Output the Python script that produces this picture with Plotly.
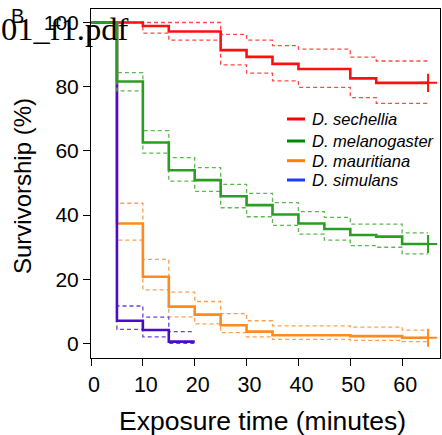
import plotly.graph_objects as go

# ---- data ----
times = [0, 5, 10, 15, 20, 25, 30, 35, 40, 45, 50, 55, 60]
end_time = 65
species = ["D. sechellia", "D. melanogaster", "D. mauritiana", "D. simulans"]

sech = [100, 100, 98.9, 97.2, 97.2, 91.4, 89.3, 87.1, 85.5, 85.5, 82.6, 81.2, 81.2]
sech_up = [100, 100, 100, 100, 100, 96.3, 94.5, 92.8, 91.7, 91.7, 89.2, 88.0, 88.0]
sech_lo = [100, 100, 96.7, 94.5, 94.5, 86.8, 84.2, 81.8, 79.8, 79.8, 76.6, 74.8, 74.8]

mel = [100, 81.6, 62.6, 54.0, 50.9, 45.9, 43.1, 40.2, 37.4, 35.7, 33.8, 33.3, 31.0]
mel_up = [100, 84.4, 66.3, 57.9, 54.8, 49.6, 46.8, 43.9, 41.1, 39.3, 37.2, 37.2, 34.5]
mel_lo = [100, 78.7, 59.3, 50.6, 47.4, 42.3, 39.5, 36.8, 34.1, 32.2, 30.5, 30.0, 27.9]

mau = [100, 37.4, 20.8, 11.5, 9.0, 5.7, 3.7, 2.6, 2.6, 2.6, 2.3, 2.3, 1.8]
mau_up = [100, 43.7, 26.2, 16.0, 13.1, 9.3, 7.1, 5.5, 5.5, 5.5, 5.1, 5.1, 4.2]
mau_lo = [100, 32.2, 16.7, 8.3, 6.1, 3.4, 2.1, 1.3, 1.3, 1.3, 1.0, 1.0, 0.6]

sim_times = [0, 5, 10, 15]
sim_end = 20
sim = [100, 7.1, 4.2, 0.6]
sim_up = [100, 11.7, 8.2, 3.7]
sim_lo = [100, 4.4, 2.1, 0.1]

x_ticks = [0, 10, 20, 30, 40, 50, 60]
y_ticks = [0, 20, 40, 60, 80, 100]

# ---- styling ----
W, H = 442, 435
L, R, T, B = 91, 2, 9, 77
PW, PH = W - L - R, H - T - B
FONT = "Liberation Sans, Arial, sans-serif"

def px(xp):
    return (xp - L) / PW

def py(yp):
    return (H - B - yp) / PH

fig = go.Figure()

def add_series(t, end, s, up, lo, col, dcol, censor):
    xs = list(t) + [end]
    for ci in (up, lo):
        fig.add_trace(go.Scatter(x=xs, y=list(ci) + [ci[-1]], mode="lines",
                                 line=dict(color=dcol, width=1.3, dash="4px,3px", shape="hv"),
                                 showlegend=False, hoverinfo="skip"))
    fig.add_trace(go.Scatter(x=xs, y=list(s) + [s[-1]], mode="lines",
                             line=dict(color=col, width=2.6, shape="hv"),
                             showlegend=False))
    if censor:
        fig.add_trace(go.Scatter(x=[end], y=[s[-1]], mode="markers",
                                 marker=dict(symbol="cross-thin", size=13,
                                             line=dict(color=col, width=2)),
                                 showlegend=False))

cols = ["#ff1010", "#2a9e22", "#ff8a1e", "#4a0ccc"]
dcols = ["#ff4848", "#5db84f", "#ffa050", "#6a40e0"]
leg_cols = ["#ff0000", "#008a00", "#ff8000", "#1a3cff"]

add_series(times, end_time, sech, sech_up, sech_lo, cols[0], dcols[0], True)
add_series(times, end_time, mau, mau_up, mau_lo, cols[2], dcols[2], True)
add_series(sim_times, sim_end, sim, sim_up, sim_lo, cols[3], dcols[3], False)
add_series(times, end_time, mel, mel_up, mel_lo, cols[1], dcols[1], True)

annotations = []
shapes = []
leg_y = [119, 141, 160.7, 180]
for name, c, yy in zip(species, leg_cols, leg_y):
    shapes.append(dict(type="line", xref="paper", yref="paper",
                       x0=px(287), x1=px(305), y0=py(yy), y1=py(yy),
                       line=dict(color=c, width=3)))
    annotations.append(dict(xref="paper", yref="paper", x=px(310), y=py(yy),
                            xanchor="left", yanchor="middle", showarrow=False,
                            text="<i>" + name + "</i>",
                            font=dict(family=FONT, size=16.5, color="black")))

annotations.append(dict(xref="paper", yref="paper", x=px(262), y=py(421),
                        xanchor="center", yanchor="middle", showarrow=False,
                        text="Exposure time (minutes)",
                        font=dict(family=FONT, size=26.5, color="black")))
annotations.append(dict(xref="paper", yref="paper", x=px(22), y=py(186),
                        xanchor="center", yanchor="middle", showarrow=False,
                        textangle=-90, text="Survivorship (%)",
                        font=dict(family=FONT, size=24, color="black")))
annotations.append(dict(xref="paper", yref="paper", x=px(17.5), y=py(16),
                        xanchor="center", yanchor="middle", showarrow=False,
                        text="B", font=dict(family=FONT, size=20, color="black")))
annotations.append(dict(xref="paper", yref="paper", x=px(-1), y=py(29),
                        xanchor="left", yanchor="middle", showarrow=False,
                        text="01_f1.pdf",
                        font=dict(family="Liberation Serif, Times New Roman, serif",
                                  size=32.5, color="black")))

fig.update_layout(
    width=W, height=H,
    margin=dict(l=L, r=R, t=T, b=B),
    paper_bgcolor="white", plot_bgcolor="white",
    showlegend=False,
    annotations=annotations, shapes=shapes,
    font=dict(family=FONT, color="black"),
)
fig.update_xaxes(range=[0, 67.3], tickvals=x_ticks, ticks="outside", ticklen=7,
                 tickwidth=1, tickcolor="black", showline=True, linecolor="black",
                 linewidth=1, mirror=True, showgrid=False, zeroline=False,
                 ticklabelshift=3,
                 tickfont=dict(family=FONT, size=21.5, color="black"))
fig.update_yaxes(range=[-4.5, 104.2], tickvals=y_ticks, ticks="outside", ticklen=7,
                 tickwidth=1, tickcolor="black", showline=True, linecolor="black",
                 linewidth=1, mirror=True, showgrid=False, zeroline=False,
                 tickfont=dict(family=FONT, size=21, color="black"))

fig.write_html("out.html")
